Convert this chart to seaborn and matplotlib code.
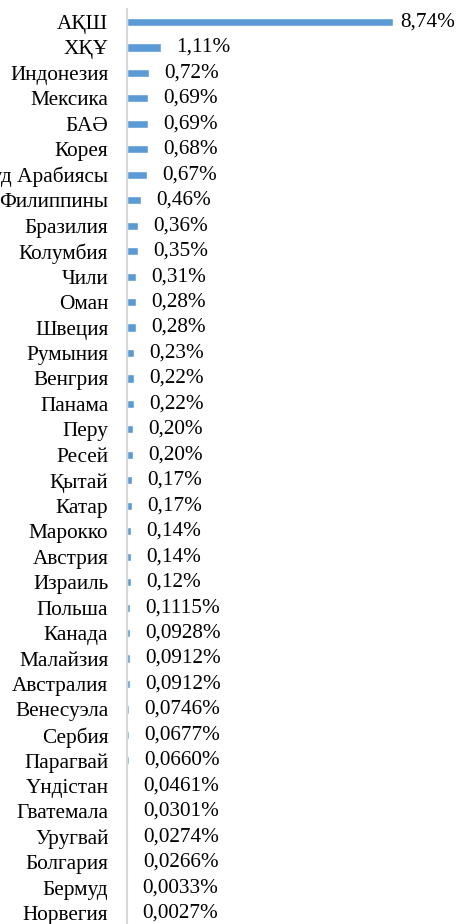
import matplotlib
matplotlib.use("Agg")
import matplotlib.pyplot as plt
import seaborn as sns
import pandas as pd

countries = ["АҚШ", "ХҚҰ", "Индонезия", "Мексика", "БАӘ", "Корея", "Сауд Арабиясы",
             "Филиппины", "Бразилия", "Колумбия", "Чили", "Оман", "Швеция", "Румыния",
             "Венгрия", "Панама", "Перу", "Ресей", "Қытай", "Катар", "Марокко", "Австрия",
             "Израиль", "Польша", "Канада", "Малайзия", "Австралия", "Венесуэла", "Сербия",
             "Парагвай", "Үндістан", "Гватемала", "Уругвай", "Болгария", "Бермуд", "Норвегия"]
values = [8.74, 1.11, 0.72, 0.69, 0.69, 0.68, 0.67, 0.46, 0.36, 0.35, 0.31, 0.28, 0.28,
          0.23, 0.22, 0.22, 0.20, 0.20, 0.17, 0.17, 0.14, 0.14, 0.12, 0.1115, 0.0928,
          0.0912, 0.0912, 0.0746, 0.0677, 0.0660, 0.0461, 0.0301, 0.0274, 0.0266,
          0.0033, 0.0027]
value_labels = ["8,74%", "1,11%", "0,72%", "0,69%", "0,69%", "0,68%", "0,67%", "0,46%",
                "0,36%", "0,35%", "0,31%", "0,28%", "0,28%", "0,23%", "0,22%", "0,22%",
                "0,20%", "0,20%", "0,17%", "0,17%", "0,14%", "0,14%", "0,12%", "0,1115%",
                "0,0928%", "0,0912%", "0,0912%", "0,0746%", "0,0677%", "0,0660%",
                "0,0461%", "0,0301%", "0,0274%", "0,0266%", "0,0033%", "0,0027%"]

df = pd.DataFrame({"country": countries, "value": values})

sns.set_style("white")
plt.rcParams['font.family'] = ['Liberation Serif', 'DejaVu Serif']

fig = plt.figure(figsize=(4.58, 9.24), dpi=100)
ax = fig.add_axes([127 / 458, -0.002, 313 / 458, 0.992])

sns.barplot(data=df, y="country", x="value", orient="h", color="#5B9BD5",
            saturation=1, width=0.32, ax=ax)

ax.set_xlim(0, 8.74 * 313 / 266)
ax.set_ylim(len(countries) - 0.5, -0.5)
for s in ["top", "right", "bottom"]:
    ax.spines[s].set_visible(False)
ax.spines["left"].set_color("#D9D9D9")
ax.spines["left"].set_linewidth(1.5)
ax.set_xticks([])
ax.set_xlabel("")
ax.set_ylabel("")
ax.tick_params(axis="y", length=0, pad=13.5, labelsize=15.3, labelcolor="black")

# value labels next to bars (first one sits closer, like Excel does near the edge)
for i, (v, lab) in enumerate(zip(values, value_labels)):
    off = 5 if i == 0 else 11
    ax.annotate(lab, (v, i), xytext=(off, 0), textcoords="offset points",
                va="center", ha="left", fontsize=15.3, color="black")

fig.savefig("out.png", dpi=100)
